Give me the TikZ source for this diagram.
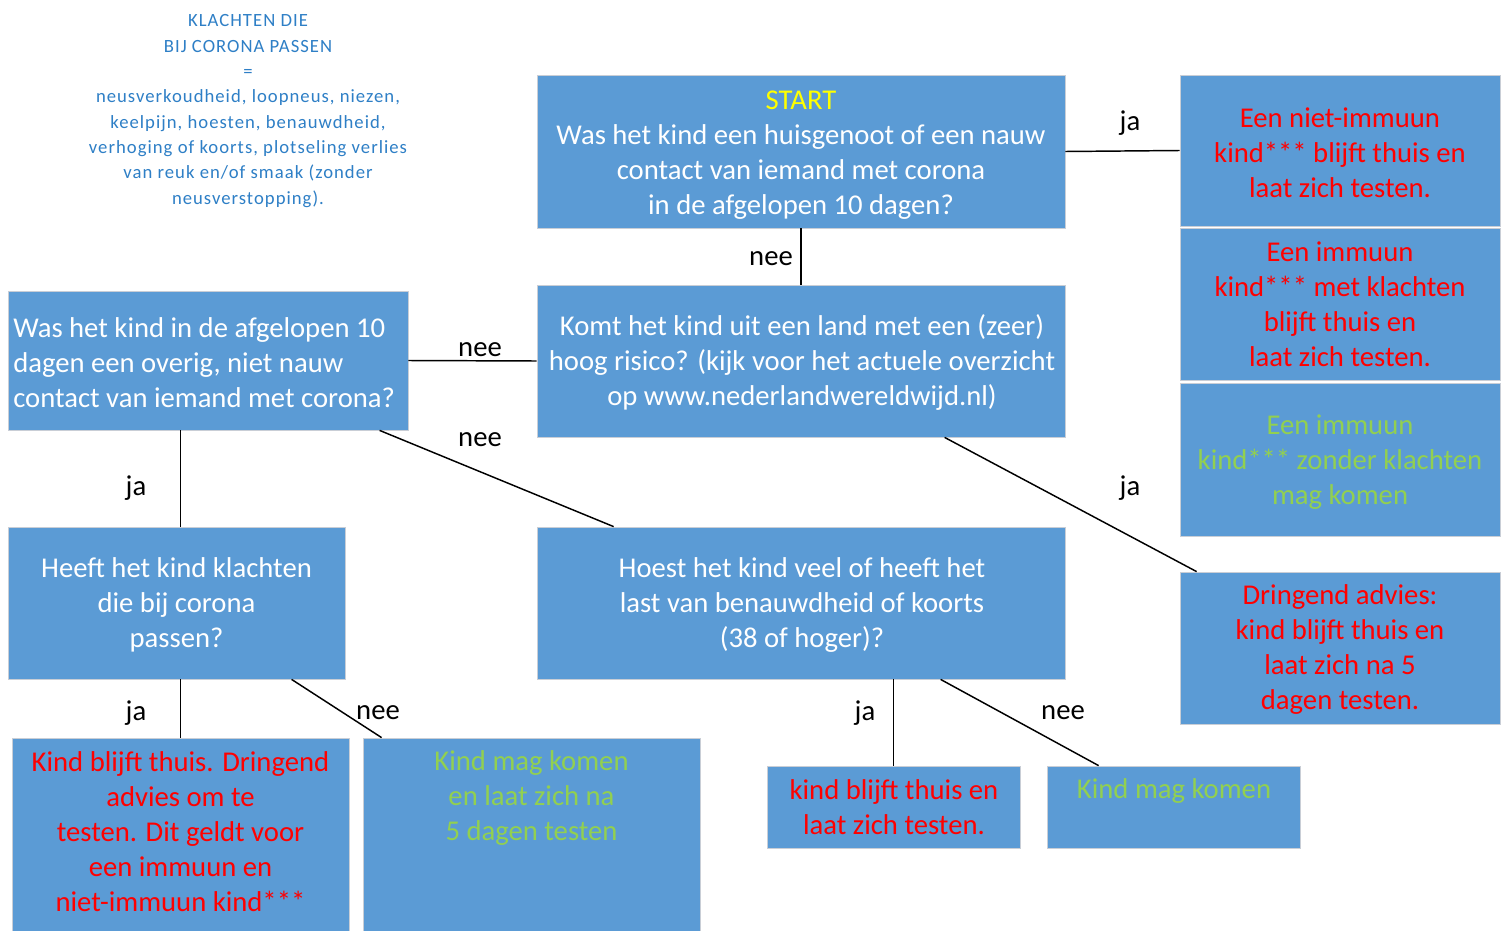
\documentclass[tikz,border=0pt]{standalone}
\usepackage{fontspec}
\setmainfont{Carlito}
\usetikzlibrary{calc}
\definecolor{boxblue}{HTML}{5B9BD5}
\definecolor{boxedge}{HTML}{C9CED6}
\definecolor{alarmred}{HTML}{FF0000}
\definecolor{okgreen}{HTML}{92D050}
\definecolor{startyellow}{HTML}{FFFF00}
\definecolor{notesblue}{HTML}{2E7FC6}
\tikzset{
  box/.style={rectangle, fill=boxblue, draw=boxedge, line width=0.6pt, inner sep=0pt},
  txt/.style={inner sep=0pt, align=center, font=\fontsize{21.5}{26.25}\selectfont},
  lbl/.style={inner sep=0pt, font=\fontsize{21.5}{26.25}\selectfont, text=black},
  conn/.style={draw=black, line width=1.1pt},
}
\begin{document}
\begin{tikzpicture}[x=0.75pt, y=-0.75pt]
\useasboundingbox (0,0) rectangle (1502,931);
\fill[white] (0,0) rectangle (1502,931);

% notes
\node[inner sep=0pt, align=center, text=notesblue, font=\fontsize{14}{19}\selectfont\addfontfeature{LetterSpace=5.5}] (notes) at (248,111)
 {KLACHTEN DIE\\BIJ CORONA PASSEN\\=\\neusverkoudheid, loopneus, niezen,\\keelpijn, hoesten, benauwdheid,\\verhoging of koorts, plotseling verlies\\van reuk en/of smaak (zonder\\neusverstopping).};

% boxes
\node[box, minimum width=528*0.75pt, minimum height=153*0.75pt] (start) at (801,151.5) {};
\node[txt, text=white] (startT) at (801,155.5) {{\color{startyellow}START}\\Was het kind een huisgenoot of een nauw\\contact van iemand met corona\\in de afgelopen 10 dagen?};

\node[box, minimum width=320*0.75pt, minimum height=151*0.75pt] (r1) at (1340,150.5) {};
\node[txt, text=alarmred] (r1T) at (1340,152.5) {Een niet-immuun\\kind*** blijft thuis en\\laat zich testen.};

\node[box, minimum width=320*0.75pt, minimum height=152*0.75pt] (r2) at (1340,304) {};
\node[txt, text=alarmred] (r2T) at (1340,304.5) {Een immuun\\kind*** met klachten\\blijft thuis en\\laat zich testen.};

\node[box, minimum width=320*0.75pt, minimum height=153*0.75pt] (r3) at (1340,459.5) {};
\node[txt, text=okgreen] (r3T) at (1340,462) {Een immuun\\kind*** zonder klachten\\mag komen};

\node[box, minimum width=320*0.75pt, minimum height=152*0.75pt] (dring) at (1340,648) {};
\node[txt, text=alarmred] (dringT) at (1340,649.5) {Dringend advies:\\kind blijft thuis en\\laat zich na 5\\dagen testen.};

\node[box, minimum width=528*0.75pt, minimum height=152*0.75pt] (komt) at (801,361) {};
\node[txt, text=white] (komtT) at (802,362.5) {Komt het kind uit een land met een (zeer)\\hoog risico? (kijk voor het actuele overzicht\\op www.nederlandwereldwijd.nl)};

\node[box, minimum width=400*0.75pt, minimum height=139*0.75pt] (was) at (208,360.5) {};
\node[txt, text=white, align=left, anchor=west] (wasT) at (13,362.5) {Was het kind in de afgelopen 10\\dagen een overig, niet nauw\\contact van iemand met corona?};

\node[box, minimum width=337*0.75pt, minimum height=152*0.75pt] (heeft) at (176.5,603) {};
\node[txt, text=white] (heeftT) at (176.5,605) {Heeft het kind klachten\\die bij corona\\passen?};

\node[box, minimum width=528*0.75pt, minimum height=152*0.75pt] (hoest) at (801,603) {};
\node[txt, text=white] (hoestT) at (802,605) {Hoest het kind veel of heeft het\\last van benauwdheid of koorts\\(38 of hoger)?};

\node[box, minimum width=337*0.75pt, minimum height=200*0.75pt] (thuis) at (180.5,838) {};
\node[txt, text=alarmred] (thuisT) at (180.5,832) {Kind blijft thuis. Dringend\\advies om te\\testen. Dit geldt voor\\een immuun en\\niet-immuun kind***};

\node[box, minimum width=337*0.75pt, minimum height=200*0.75pt] (mag1) at (531.5,838) {};
\node[txt, text=okgreen] (mag1T) at (531.5,798) {Kind mag komen\\en laat zich na\\5 dagen testen};

\node[box, minimum width=253*0.75pt, minimum height=82*0.75pt] (kbt) at (893.5,807) {};
\node[txt, text=alarmred] (kbtT) at (894,807.5) {kind blijft thuis en\\laat zich testen.};

\node[box, minimum width=253*0.75pt, minimum height=82*0.75pt] (mag2) at (1173.5,807) {};
\node[txt, text=okgreen] (mag2T) at (1174,791) {Kind mag komen};

% connectors
\draw[conn] (start.east) -- (r1.west);
\draw[conn] (start.south) -- (komt.north);
\draw[conn] (komt.west) -- (was.east);
\draw[conn] ($(was.south west)+(173,0)$) -- ($(heeft.north west)+(173,0)$);
\draw[conn] ($(was.south west)+(372,0)$) -- ($(hoest.north west)+(77,0)$);
\draw[conn] ($(komt.south west)+(408,0)$) -- ($(dring.north west)+(17,0)$);
\draw[conn] ($(heeft.south west)+(173,0)$) -- ($(thuis.north west)+(169,0)$);
\draw[conn] ($(heeft.south west)+(284,0)$) -- ($(mag1.north west)+(19,0)$);
\draw[conn] ($(hoest.south west)+(357,0)$) -- ($(kbt.north west)+(127,0)$);
\draw[conn] ($(hoest.south west)+(404,0)$) -- ($(mag2.north west)+(52,0)$);

% labels
\node[lbl] (l1) at (1130,123) {ja};
\node[lbl] (l2) at (771,259) {nee};
\node[lbl] (l3) at (480,350) {nee};
\node[lbl] (l4) at (136,488) {ja};
\node[lbl] (l5) at (480,440) {nee};
\node[lbl] (l6) at (1130,488) {ja};
\node[lbl] (l7) at (136,713) {ja};
\node[lbl] (l8) at (378,713) {nee};
\node[lbl] (l9) at (865,713) {ja};
\node[lbl] (l10) at (1063,713) {nee};
\end{tikzpicture}
\end{document}
